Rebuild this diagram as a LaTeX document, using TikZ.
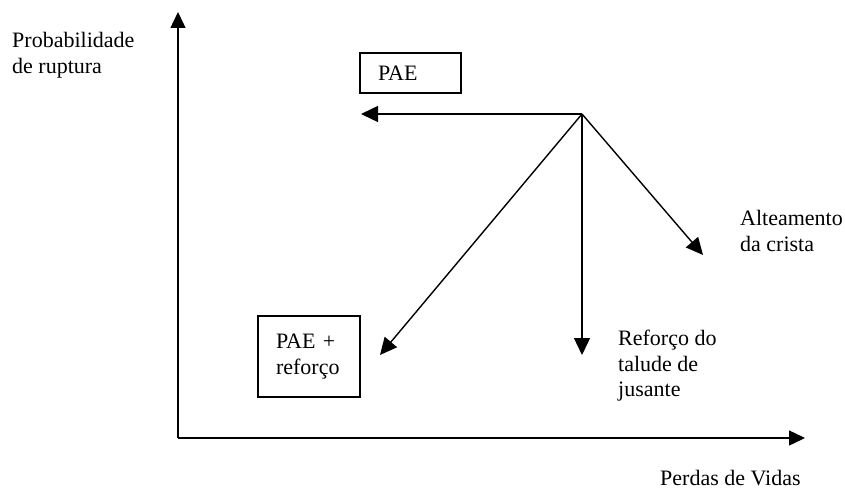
\documentclass[tikz,border=0pt]{standalone}
\usepackage{fontspec}
\setmainfont{Liberation Serif}
\usetikzlibrary{arrows.meta,positioning}
\tikzset{
	axis/.style={line width=1.4pt,-{Triangle[length=16pt,width=15pt]}},
	move/.style={line width=1.4pt,-{Triangle[length=17pt,width=16pt]}},
	label/.style={font=\fontsize{22}{25.5}\selectfont,align=left,anchor=west,inner sep=0pt},
}

\begin{document}
\begin{tikzpicture}[x=1pt,y=-1pt,
			box/.style={draw,line width=1.2pt,font=\fontsize{22}{25.5}\selectfont,
				align=left,inner xsep=18pt,inner ysep=0pt}]
	\useasboundingbox (0,0) rectangle (845,489);
	% axes
	\coordinate (origin) at (178,438);
	\coordinate (ytip) at (178,12);
	\coordinate (xtip) at (805,438);
	\draw[axis] (origin) -- (ytip);
	\draw[axis] (origin) -- (xtip);
	\node[label] (ylabel) at (12,55) {Probabilidade\\de ruptura};
	\node[label] (xlabel) at (660,478) {Perdas de Vidas};
	% options
	\coordinate (start) at (582,114);
	\node[box,text width=65pt,minimum height=40pt] (pae) at (410.5,73) {PAE};
	\node[box,text width=66pt,minimum height=81pt] (paeref) at (309,356.5) {PAE +\\reforço};
	\coordinate (left) at (361,114);
	\coordinate (down) at (582,355);
	\coordinate (downleft) at (380,355);
	\coordinate (downright) at (703,255);
	\draw[move] (start) -- (left);
	\draw[move] (start) -- (down);
	\draw[move] (start) -- (downleft);
	\draw[move] (start) -- (downright);
	\node[label] (crista) at (740,231) {Alteamento\\da crista};
	\node[label] (talude) at (618,366) {Reforço do\\talude de\\jusante};
\end{tikzpicture}
\end{document}
